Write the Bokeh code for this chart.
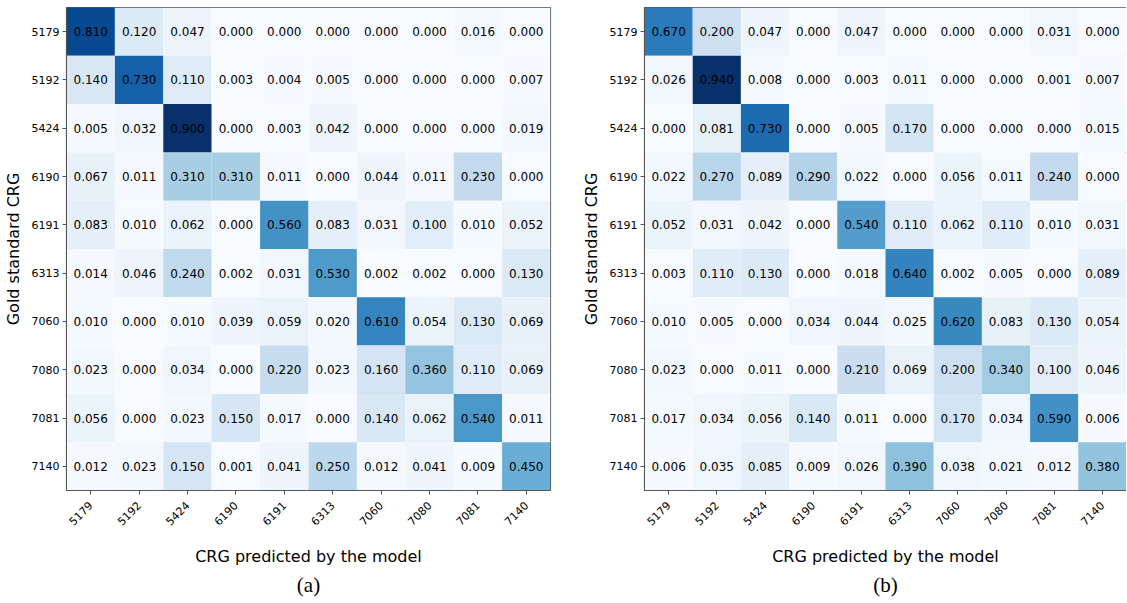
import numpy as np
from bokeh.plotting import figure
from bokeh.layouts import row
from bokeh.models import ColumnDataSource, LinearColorMapper, FactorRange, Title
from bokeh.palettes import Blues256
from bokeh.core.properties import value
from bokeh.embed import file_html
from bokeh.resources import INLINE
from math import pi

categories = ["5179", "5192", "5424", "6190", "6191", "6313", "7060", "7080", "7081", "7140"]

matrix_a = [
    [0.810, 0.120, 0.047, 0.000, 0.000, 0.000, 0.000, 0.000, 0.016, 0.000],
    [0.140, 0.730, 0.110, 0.003, 0.004, 0.005, 0.000, 0.000, 0.000, 0.007],
    [0.005, 0.032, 0.900, 0.000, 0.003, 0.042, 0.000, 0.000, 0.000, 0.019],
    [0.067, 0.011, 0.310, 0.310, 0.011, 0.000, 0.044, 0.011, 0.230, 0.000],
    [0.083, 0.010, 0.062, 0.000, 0.560, 0.083, 0.031, 0.100, 0.010, 0.052],
    [0.014, 0.046, 0.240, 0.002, 0.031, 0.530, 0.002, 0.002, 0.000, 0.130],
    [0.010, 0.000, 0.010, 0.039, 0.059, 0.020, 0.610, 0.054, 0.130, 0.069],
    [0.023, 0.000, 0.034, 0.000, 0.220, 0.023, 0.160, 0.360, 0.110, 0.069],
    [0.056, 0.000, 0.023, 0.150, 0.017, 0.000, 0.140, 0.062, 0.540, 0.011],
    [0.012, 0.023, 0.150, 0.001, 0.041, 0.250, 0.012, 0.041, 0.009, 0.450],
]

matrix_b = [
    [0.670, 0.200, 0.047, 0.000, 0.047, 0.000, 0.000, 0.000, 0.031, 0.000],
    [0.026, 0.940, 0.008, 0.000, 0.003, 0.011, 0.000, 0.000, 0.001, 0.007],
    [0.000, 0.081, 0.730, 0.000, 0.005, 0.170, 0.000, 0.000, 0.000, 0.015],
    [0.022, 0.270, 0.089, 0.290, 0.022, 0.000, 0.056, 0.011, 0.240, 0.000],
    [0.052, 0.031, 0.042, 0.000, 0.540, 0.110, 0.062, 0.110, 0.010, 0.031],
    [0.003, 0.110, 0.130, 0.000, 0.018, 0.640, 0.002, 0.005, 0.000, 0.089],
    [0.010, 0.005, 0.000, 0.034, 0.044, 0.025, 0.620, 0.083, 0.130, 0.054],
    [0.023, 0.000, 0.011, 0.000, 0.210, 0.069, 0.200, 0.340, 0.100, 0.046],
    [0.017, 0.034, 0.056, 0.140, 0.011, 0.000, 0.170, 0.034, 0.590, 0.006],
    [0.006, 0.035, 0.085, 0.009, 0.026, 0.390, 0.038, 0.021, 0.012, 0.380],
]

x_label = "CRG predicted by the model"
y_label = "Gold standard CRG"
captions = ["(a)", "(b)"]

FONT = "DejaVu Sans"
palette = list(Blues256)[::-1]


def make_panel(matrix, caption, width, border_left, border_right):
    xs, ys, vals, txt = [], [], [], []
    for i, r in enumerate(categories):
        for j, c in enumerate(categories):
            xs.append(c)
            ys.append(r)
            vals.append(matrix[i][j])
            txt.append(f"{matrix[i][j]:.3f}")
    src = ColumnDataSource(dict(x=xs, y=ys, v=vals, t=txt))
    mapper = LinearColorMapper(palette=palette, low=0, high=max(vals))

    p = figure(width=width, height=603,
               x_range=FactorRange(factors=categories),
               y_range=FactorRange(factors=categories[::-1]),
               output_backend="svg", toolbar_location=None,
               min_border_left=border_left, min_border_right=border_right,
               min_border_top=7, min_border_bottom=113)
    p.rect(x="x", y="y", width=1, height=1, source=src,
           fill_color={"field": "v", "transform": mapper}, line_color=None)
    p.text(x="x", y="y", text="t", source=src, text_align="center",
           text_baseline="middle", text_font=value(FONT),
           text_font_size="12px", text_color="black")

    p.grid.grid_line_color = None
    p.outline_line_color = "#555555"
    p.outline_line_width = 1.2
    p.x_range.range_padding = 0
    p.y_range.range_padding = 0
    for ax in (p.xaxis[0], p.yaxis[0]):
        ax.axis_line_color = "#555555"
        ax.major_tick_line_color = "#555555"
        ax.major_tick_out = 4
        ax.major_tick_in = 0
        ax.minor_tick_line_color = None
        ax.major_label_text_font = FONT
        ax.major_label_text_font_size = "11px"
        ax.major_label_text_color = "black"
        ax.axis_label_text_font = FONT
        ax.axis_label_text_font_size = "16px"
        ax.axis_label_text_font_style = "normal"
        ax.axis_label_text_color = "black"
    p.xaxis.axis_label = x_label
    p.yaxis.axis_label = y_label
    p.xaxis.major_label_orientation = pi / 4
    p.xaxis.major_label_standoff = 9
    p.yaxis.major_label_standoff = 3
    p.xaxis.axis_label_standoff = 15
    p.yaxis.axis_label_standoff = 6

    t = Title(text=caption, align="center", text_font="Liberation Serif",
              text_font_size="21px", text_font_style="normal",
              text_color="black", standoff=4)
    p.add_layout(t, "below")
    return p


p1 = make_panel(matrix_a, captions[0], 578, 66, 28)
p2 = make_panel(matrix_b, captions[1], 548, 64, 0)
layout = row(p1, p2)

open("out.html", "w").write(file_html(layout, INLINE))
